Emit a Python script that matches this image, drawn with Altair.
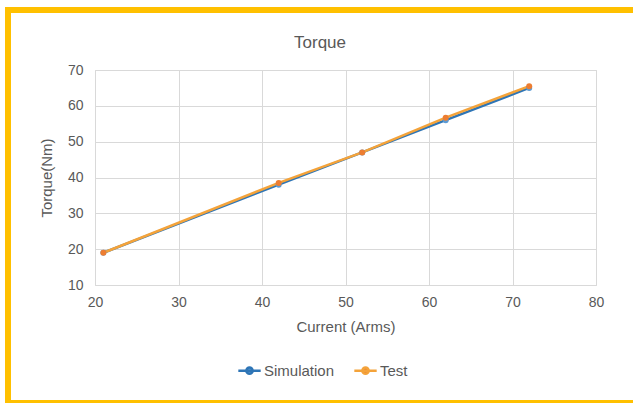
import altair as alt
import pandas as pd

current = [21, 42, 52, 62, 72]
simulation = [19.0, 38.0, 47.0, 56.0, 65.0]
test = [19.0, 38.5, 47.0, 56.7, 65.5]
series_names = ["Simulation", "Test"]
line_colors = ["#2E75B6", "#F4A33A"]
point_colors = ["#5B9BD5", "#ED7D31"]
chart_title = "Torque"
x_ticks = [20, 30, 40, 50, 60, 70, 80]
y_ticks = [10, 20, 30, 40, 50, 60, 70]

rows = []
for c, s in zip(current, simulation):
    rows.append({"Current": c, "Torque": s, "Series": "Simulation"})
for c, t in zip(current, test):
    rows.append({"Current": c, "Torque": t, "Series": "Test"})
df = pd.DataFrame(rows)

FONT = "Liberation Sans"
TXT = "#595959"

legend_path = "M-1,0H1M-0.28,0A0.28,0.28 0 1,0 0.28,0A0.28,0.28 0 1,0 -0.28,0Z"


def x_enc():
    return alt.X("Current:Q", scale=alt.Scale(domain=[20, 80], nice=False),
                 axis=alt.Axis(values=x_ticks, title="Current (Arms)", tickCount=7,
                               grid=True, ticks=False, domain=False, labelPadding=10,
                               titlePadding=10, labelFlush=False, labelOverlap=False))


def y_enc():
    return alt.Y("Torque:Q", scale=alt.Scale(domain=[10, 70], nice=False, zero=False),
                 axis=alt.Axis(values=y_ticks, title="Torque(Nm)", tickCount=7,
                               grid=True, ticks=False, domain=False, labelPadding=12,
                               titlePadding=13, labelFlush=False, labelOverlap=False))


lines = alt.Chart(df).mark_line(strokeWidth=2.5).encode(
    x=x_enc(), y=y_enc(),
    color=alt.Color("Series:N", scale=alt.Scale(domain=series_names, range=line_colors),
                    legend=alt.Legend(title=None, orient="none", direction="horizontal",
                                      legendX=142, legendY=288, symbolType=legend_path,
                                      symbolSize=500, symbolStrokeWidth=2.5,
                                      labelFont=FONT, labelFontSize=15, labelColor=TXT,
                                      columnPadding=14, labelOffset=2)),
    detail="Series:N",
)
points = alt.Chart(df).mark_circle(size=36, opacity=1).encode(
    x=x_enc(), y=y_enc(),
    fill=alt.Fill("Series:N", scale=alt.Scale(domain=series_names, range=point_colors),
                  legend=None),
)

border_left = alt.Chart(df).mark_rect(color="#FFC000").encode(
    x=alt.value(-90), x2=alt.value(-84), y=alt.value(-63), y2=alt.value(333))
border_top = alt.Chart(df).mark_rect(color="#FFC000").encode(
    x=alt.value(-90), x2=alt.value(540), y=alt.value(-63), y2=alt.value(-57))
border_bottom = alt.Chart(df).mark_rect(color="#FFC000").encode(
    x=alt.value(-90), x2=alt.value(540), y=alt.value(330), y2=alt.value(333))

title_text = alt.Chart(pd.DataFrame({"t": [chart_title]})).mark_text(
    font=FONT, fontSize=17, color=TXT, align="center", baseline="alphabetic"
).encode(text="t:N", x=alt.value(225), y=alt.value(-22))

chart = alt.layer(lines, points, border_left, border_top, border_bottom, title_text).properties(
    width=501, height=215,
    autosize=alt.AutoSizeParams(type="none"),
    padding={"left": 95, "top": 70, "right": 37, "bottom": 118},
    background="white",
).configure_view(stroke="#D9D9D9", strokeWidth=1).configure_axis(
    gridColor="#D9D9D9", labelFont=FONT, labelFontSize=14, labelColor=TXT,
    titleFont=FONT, titleFontSize=15, titleColor=TXT, titleFontWeight="normal",
)

chart.save("out.html", embed_options={"renderer": "svg", "actions": False})
